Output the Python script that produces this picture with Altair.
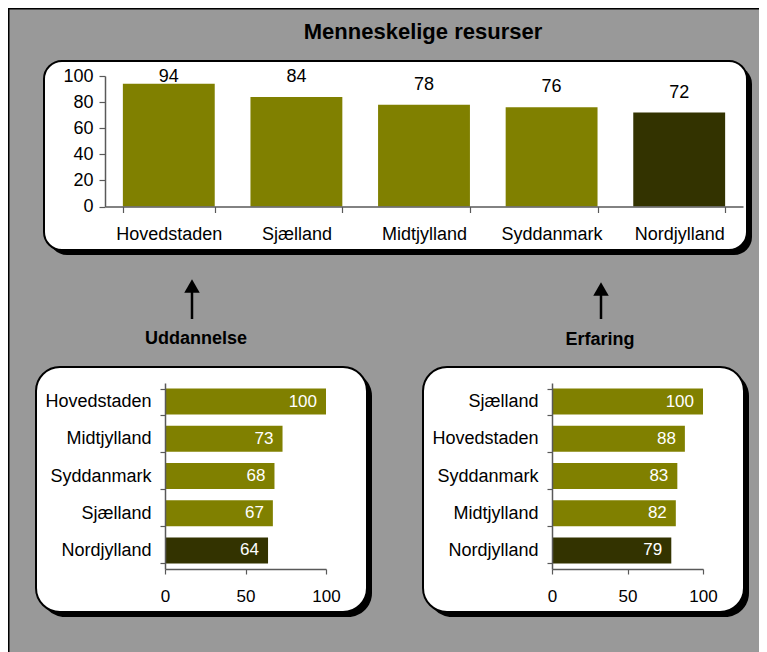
import altair as alt
import pandas as pd

# ---------------- data ----------------
top_regions = ["Hovedstaden", "Sjælland", "Midtjylland", "Syddanmark", "Nordjylland"]
top_values = [94, 84, 78, 76, 72]
edu_regions = ["Hovedstaden", "Midtjylland", "Syddanmark", "Sjælland", "Nordjylland"]
edu_values = [100, 73, 68, 67, 64]
exp_regions = ["Sjælland", "Hovedstaden", "Syddanmark", "Midtjylland", "Nordjylland"]
exp_values = [100, 88, 83, 82, 79]
top_ticks = [0, 20, 40, 60, 80, 100]
bottom_ticks = [0, 50, 100]
main_title = "Menneskelige resurser"
edu_title = "Uddannelse"
exp_title = "Erfaring"
highlight = "Nordjylland"

# ---------------- style ----------------
OLIVE = "#808000"
DARK = "#333300"
BG = "#999999"
AXIS = "#595959"
FONT = "Liberation Sans"
W, H = 751, 644

one = pd.DataFrame({"k": [0]})


def rect(x, x2, y, y2, **kw):
    return alt.Chart(one).mark_rect(**kw).encode(
        x=alt.value(x), x2=alt.value(x2), y=alt.value(y), y2=alt.value(y2)
    )


def box(x, x2, y, y2, r):
    shadow = rect(x + 5, x2 + 5, y + 5, y2 + 5, color="black", cornerRadius=r)
    white = rect(x, x2, y, y2, fill="white", stroke="black", strokeWidth=2, cornerRadius=r)
    return [shadow, white]


def label(text, x, y, size, bold=False):
    return alt.Chart(one).mark_text(
        font=FONT, fontSize=size, fontWeight="bold" if bold else "normal",
        color="black", align="center", baseline="middle"
    ).encode(x=alt.value(x), y=alt.value(y), text=alt.value(text))


def arrow(x, head_y, bottom_y):
    shaft = alt.Chart(one).mark_rule(color="black", strokeWidth=2.5).encode(
        x=alt.value(x), y=alt.value(head_y + 4), y2=alt.value(bottom_y)
    )
    head = alt.Chart(one).mark_point(
        shape="triangle-up", filled=True, color="black", opacity=1, size=240
    ).encode(x=alt.value(x), y=alt.value(head_y))
    return [shaft, head]


def axis_kw(**kw):
    base = dict(
        title=None, grid=False, zindex=1, domainColor=AXIS, tickColor=AXIS,
        domainWidth=1.5, tickWidth=1.2, labelFont=FONT, labelColor="black",
        labelFontSize=18,
    )
    base.update(kw)
    return alt.Axis(**base)


color_rule = alt.condition(alt.datum.region == highlight, alt.value(DARK), alt.value(OLIVE))

# ---------------- top chart ----------------
top_df = pd.DataFrame({"region": top_regions, "value": top_values})
top_x = alt.X(
    "region:N", sort=top_regions,
    scale=alt.Scale(range=[97, 735], paddingInner=0.28, paddingOuter=0.14),
    axis=axis_kw(orient="bottom", offset=198.5 - H, labelAngle=0, tickBand="extent",
                 tickSize=6, labelPadding=13),
)
top_y = alt.Y(
    "value:Q",
    scale=alt.Scale(domain=[0, 100], range=[198.5, 68], nice=False),
    axis=axis_kw(orient="left", offset=-97, values=top_ticks, tickSize=6, labelPadding=6),
)
top_bars = alt.Chart(top_df).mark_bar().encode(x=top_x, y=top_y, color=color_rule)
top_text = alt.Chart(top_df).transform_calculate(
    ly="min(datum.value, 84)"
).mark_text(font=FONT, fontSize=18, color="black", baseline="middle", dy=-20).encode(
    x=alt.X("region:N", sort=top_regions),
    y=alt.Y("ly:Q"),
    text=alt.Text("value:Q"),
)
top_chart = alt.layer(top_bars, top_text)


# ---------------- bottom charts ----------------
def hbar(regions, values, x0, x100):
    df = pd.DataFrame({"region": regions, "value": values})
    x = alt.X(
        "value:Q",
        scale=alt.Scale(domain=[0, 100], range=[x0, x100], nice=False),
        axis=axis_kw(orient="bottom", offset=561 - H, values=bottom_ticks, tickSize=5,
                     labelPadding=14, labelFontSize=17, labelFlush=False),
    )
    y = alt.Y(
        "region:N", sort=regions,
        scale=alt.Scale(range=[375, 561], paddingInner=0.3, paddingOuter=0.15),
        axis=axis_kw(orient="left", offset=-x0, tickBand="extent", tickSize=5, labelPadding=9),
    )
    bars = alt.Chart(df).mark_bar().encode(x=x, y=y, color=color_rule)
    text = alt.Chart(df).mark_text(
        font=FONT, fontSize=17, color="white", align="right", baseline="middle", dx=-9
    ).encode(
        x=alt.X("value:Q"), y=alt.Y("region:N", sort=regions), text=alt.Text("value:Q")
    )
    return alt.layer(bars, text)


edu_chart = hbar(edu_regions, edu_values, 157, 318)
exp_chart = hbar(exp_regions, exp_values, 544, 695)

# ---------------- frame & decorations ----------------
frame = [
    alt.Chart(one).mark_rule(color="black", strokeWidth=3).encode(
        x=alt.value(0), x2=alt.value(W), y=alt.value(0)
    ),
    alt.Chart(one).mark_rule(color="black", strokeWidth=3).encode(
        x=alt.value(0), y=alt.value(0), y2=alt.value(H)
    ),
]

layers = (
    frame
    + box(36, 739, 53, 242, 18)
    + box(28, 359, 359, 604, 24)
    + box(415, 736, 359, 604, 24)
    + [label(main_title, 415, 24, 22, bold=True)]
    + arrow(184, 278, 311)
    + arrow(593, 281, 311)
    + [label(edu_title, 188, 331, 18, bold=True), label(exp_title, 592, 332, 18, bold=True)]
    + [top_chart, edu_chart, exp_chart]
)

chart = alt.layer(*layers).resolve_scale(
    x="independent", y="independent", color="independent"
).resolve_axis(
    x="independent", y="independent"
).properties(
    width=W, height=H, padding=0, background=BG,
    autosize=alt.AutoSizeParams(type="none"),
).configure_view(strokeWidth=0)

chart.save("out.html", embed_options={"renderer": "svg", "actions": False})
